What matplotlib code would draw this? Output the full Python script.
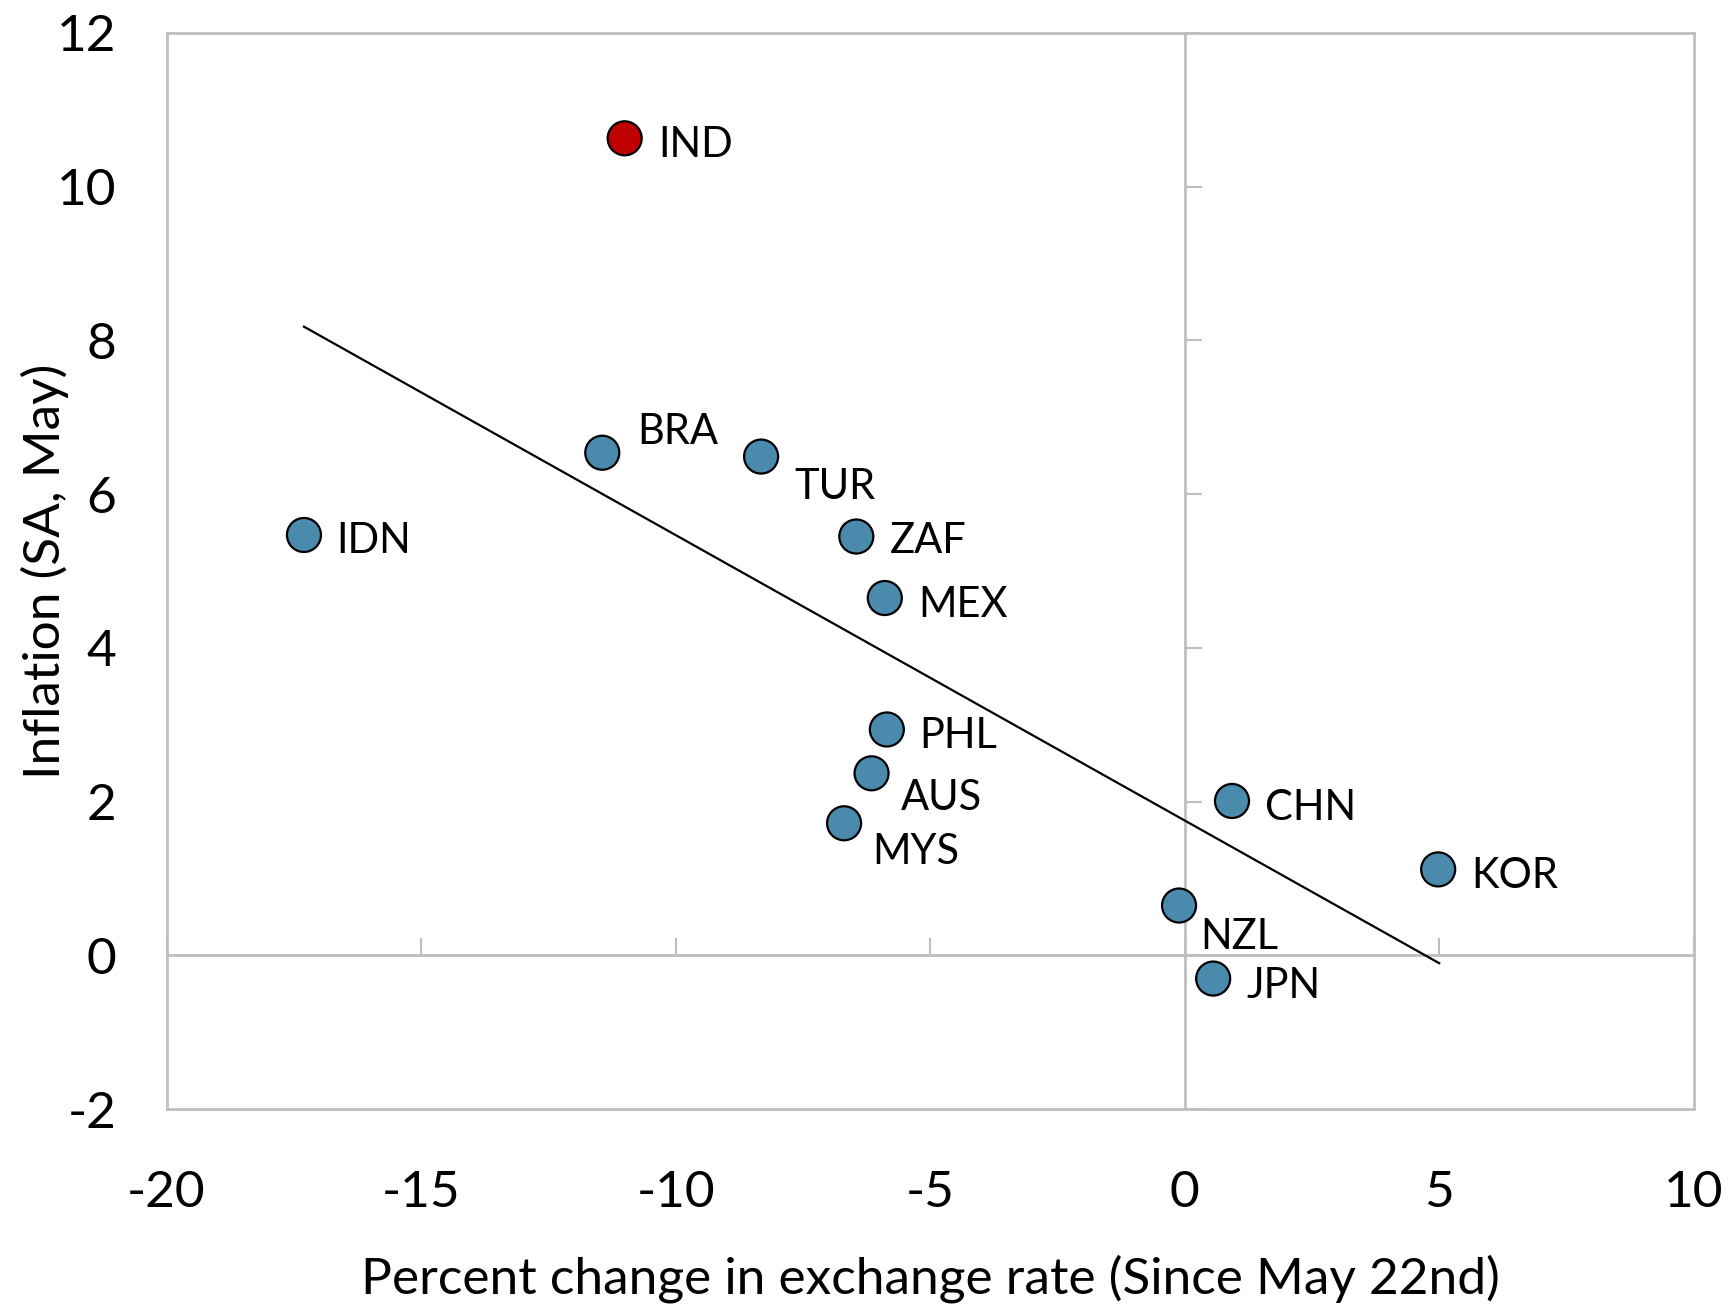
import numpy as np
import matplotlib
matplotlib.use('Agg')
import matplotlib.pyplot as plt

# values
countries = ['IND', 'BRA', 'TUR', 'IDN', 'ZAF', 'MEX', 'PHL', 'AUS', 'MYS', 'CHN', 'KOR', 'NZL', 'JPN']
fx_change = [-11.0, -11.44, -8.32, -17.3, -6.45, -5.89, -5.85, -6.15, -6.69, 0.93, 4.98, -0.11, 0.56]
inflation = [10.63, 6.54, 6.49, 5.47, 5.45, 4.65, 2.94, 2.37, 1.72, 2.01, 1.12, 0.65, -0.30]
highlight = ['IND']

trend_x = [-17.3, 5.0]
trend_y = [8.18, -0.10]

xticks = [-20, -15, -10, -5, 0, 5, 10]
yticks = [-2, 0, 2, 4, 6, 8, 10, 12]

# label offsets in points (layout only)
offsets = {'IND': (24, -5), 'BRA': (25, 15), 'TUR': (24, -22), 'IDN': (23, -4),
           'ZAF': (24, -3), 'MEX': (24, -5), 'PHL': (23, -5), 'AUS': (21, -18),
           'MYS': (20, -21), 'CHN': (24, -5), 'KOR': (24, -5), 'NZL': (15, -23),
           'JPN': (24, -5)}

plt.rcParams['font.family'] = ['Lato', 'DejaVu Sans']
plt.rcParams['axes.unicode_minus'] = False

blue = '#4a8bad'
red = '#c00000'
grey = '#bfbfbf'


def main():
    fig = plt.figure(figsize=(17.29, 13.09), dpi=100)
    rect = [0.0963, 0.1526, 0.8833, 0.8222]
    ax = fig.add_axes(rect)
    ax.set_xlim(-20, 10)
    ax.set_ylim(-2, 12)
    for s in ax.spines.values():
        s.set_color(grey)
        s.set_linewidth(2)
    ax.set_xticks(xticks)
    ax.set_yticks(yticks)
    ax.tick_params(length=0, labelsize=37)
    ax.tick_params(axis='x', pad=44)
    ax.tick_params(axis='y', pad=36)
    ax.set_xlabel('Percent change in exchange rate (Since May 22nd)', fontsize=37)
    ax.set_ylabel('Inflation (SA, May)', fontsize=37)
    ax.xaxis.set_label_coords(0.5, -0.135)
    ax.yaxis.set_label_coords(-0.064, 0.5)

    # zero lines with their own ticks
    ax2 = fig.add_axes(rect, sharex=ax, sharey=ax)
    ax2.patch.set_visible(False)
    ax2.spines['top'].set_visible(False)
    ax2.spines['right'].set_visible(False)
    ax2.spines['left'].set_position(('data', 0))
    ax2.spines['bottom'].set_position(('data', 0))
    for k in ['left', 'bottom']:
        ax2.spines[k].set_color(grey)
        ax2.spines[k].set_linewidth(2)
    ax2.tick_params(direction='in', length=12, width=1.5, color=grey,
                    labelleft=False, labelbottom=False)

    ax2.plot(trend_x, trend_y, color='black', lw=1.6, zorder=3)

    cols = [red if c in highlight else blue for c in countries]
    ax2.scatter(fx_change, inflation, s=600, c=cols, edgecolors='black', linewidths=1.6, zorder=4)
    for c, x, y in zip(countries, fx_change, inflation):
        ax2.annotate(c, (x, y), xytext=offsets[c], textcoords='offset points',
                     ha='left', va='center', fontsize=30, zorder=5)

    fig.savefig('out.png', dpi=100)


if __name__ == '__main__':
    main()
